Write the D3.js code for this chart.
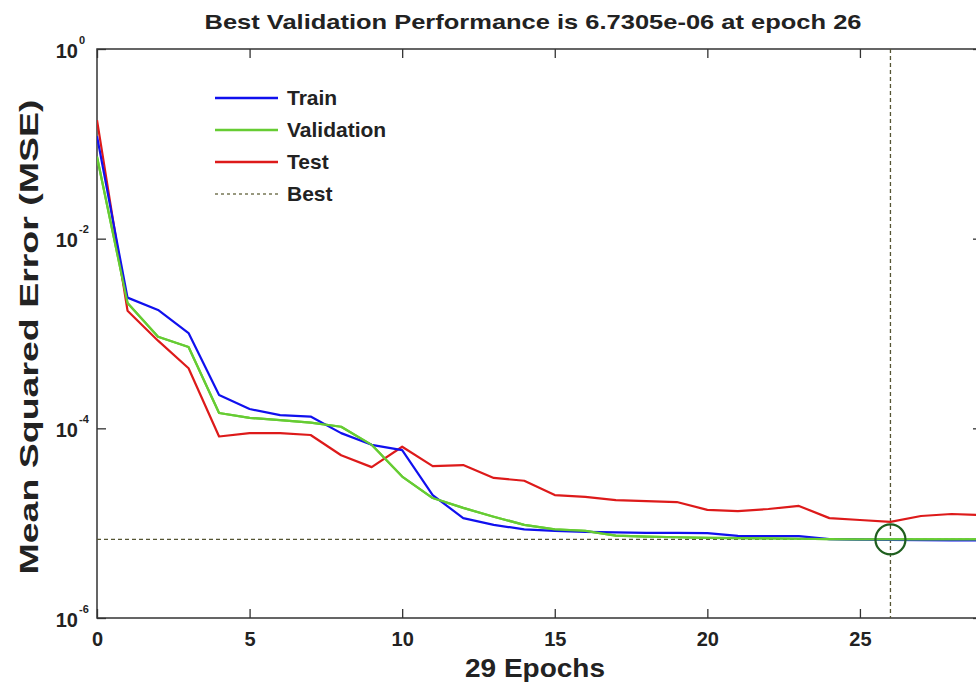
<!DOCTYPE html>
<html><head><meta charset="utf-8">
<script src="https://cdn.jsdelivr.net/npm/d3@7"></script>
<style>body{margin:0;background:#fff;overflow:hidden}svg{display:block}</style>
</head><body>
<script>
const epochs = [0,1,2,3,4,5,6,7,8,9,10,11,12,13,14,15,16,17,18,19,20,21,22,23,24,25,26,27,28,29];
const train = [0.12, 2.39e-3, 1.77e-3, 1.01e-3, 2.25e-4, 1.60e-4, 1.38e-4, 1.33e-4, 8.9e-5, 6.7e-5, 5.9e-5, 1.98e-5, 1.13e-5, 9.6e-6, 8.6e-6, 8.3e-6, 8.1e-6, 8.0e-6, 7.9e-6, 7.9e-6, 7.85e-6, 7.35e-6, 7.32e-6, 7.3e-6, 6.8e-6, 6.7e-6, 6.65e-6, 6.62e-6, 6.6e-6, 6.6e-6];
const validation = [0.073, 2.1e-3, 9.25e-4, 7.2e-4, 1.45e-4, 1.29e-4, 1.22e-4, 1.15e-4, 1.04e-4, 6.7e-5, 3.1e-5, 1.84e-5, 1.45e-5, 1.17e-5, 9.6e-6, 8.6e-6, 8.3e-6, 7.4e-6, 7.2e-6, 7.1e-6, 7.0e-6, 6.95e-6, 6.9e-6, 6.85e-6, 6.8e-6, 6.76e-6, 6.7305e-6, 6.74e-6, 6.75e-6, 6.76e-6];
const test = [0.178, 1.74e-3, 8.4e-4, 4.3e-4, 8.2e-5, 8.9e-5, 8.9e-5, 8.5e-5, 5.2e-5, 3.9e-5, 6.4e-5, 4.0e-5, 4.1e-5, 3.0e-5, 2.8e-5, 1.98e-5, 1.89e-5, 1.75e-5, 1.71e-5, 1.67e-5, 1.38e-5, 1.34e-5, 1.41e-5, 1.52e-5, 1.13e-5, 1.08e-5, 1.03e-5, 1.19e-5, 1.25e-5, 1.22e-5];
const bestEpoch = 26;
const bestValue = 6.7305e-6;
const xTicks = [0,5,10,15,20,25];
const yTicks = [1e-6,1e-4,1e-2,1];
const yTickExp = ["-6","-4","-2","0"];
const seriesNames = ["Train","Validation","Test","Best"];
const seriesColors = ["#1010ee","#66cc33","#dd1a1a","#555533"];
const titleText = "Best Validation Performance is 6.7305e-06 at epoch 26";
const xLabel = "29 Epochs";
const yLabel = "Mean Squared Error  (MSE)";

const W = 976, H = 684;
const L = 97, R = 982, T = 49, B = 618;
const font = "'Liberation Sans', Arial, sans-serif";

const svg = d3.select("body").append("svg").attr("width", W).attr("height", H)
  .style("font-family", font).style("font-weight", "bold");

const x = d3.scaleLinear().domain([0, 29]).range([L, R]);
const y = d3.scaleLog().domain([1e-6, 1]).range([B, T]);

svg.append("defs").append("clipPath").attr("id","clip")
  .append("rect").attr("x", L).attr("y", T).attr("width", R - L).attr("height", B - T);

// frame
svg.append("rect").attr("x", L).attr("y", T).attr("width", R - L).attr("height", B - T)
  .attr("fill", "none").attr("stroke", "#333").attr("stroke-width", 1.5);

// x axis bottom
const xa = svg.append("g").attr("transform", `translate(0,${B})`)
  .call(d3.axisBottom(x).tickValues(xTicks).tickSizeInner(-9).tickSizeOuter(0).tickPadding(14).tickFormat(d3.format("d")));
xa.select(".domain").remove();
xa.selectAll("line").attr("stroke", "#333").attr("stroke-width", 1.3);
xa.selectAll("text").attr("font-size", 20).attr("font-family", font).attr("font-weight", "bold").attr("fill", "#222");
// x axis top
const xt = svg.append("g").attr("transform", `translate(0,${T})`)
  .call(d3.axisTop(x).tickValues(xTicks).tickSizeInner(-9).tickSizeOuter(0).tickFormat(""));
xt.select(".domain").remove();
xt.selectAll("line").attr("stroke", "#333").attr("stroke-width", 1.3);

// y axis left
const ya = svg.append("g").attr("transform", `translate(${L},0)`)
  .call(d3.axisLeft(y).tickValues(yTicks).tickSizeInner(-9).tickSizeOuter(0).tickFormat(() => ""));
ya.select(".domain").remove();
ya.selectAll("line").attr("stroke", "#333").attr("stroke-width", 1.3);
ya.selectAll(".tick").each(function(d, i) {
  const g = d3.select(this);
  g.append("text").attr("x", -19).attr("y", 8).attr("text-anchor", "end")
    .attr("font-size", 20).attr("fill", "#222").text("10");
  g.append("text").attr("x", -18).attr("y", -6).attr("text-anchor", "start")
    .attr("font-size", 11).attr("fill", "#222").text(yTickExp[i]);
});
// y axis right
const yr = svg.append("g").attr("transform", `translate(${R},0)`)
  .call(d3.axisRight(y).tickValues(yTicks).tickSizeInner(-9).tickSizeOuter(0).tickFormat(""));
yr.select(".domain").remove();
yr.selectAll("line").attr("stroke", "#333").attr("stroke-width", 1.3);

// best lines
svg.append("line").attr("x1", L).attr("x2", R).attr("y1", y(bestValue)).attr("y2", y(bestValue))
  .attr("stroke", seriesColors[3]).attr("stroke-width", 1.3).attr("stroke-dasharray", "4,3");
svg.append("line").attr("x1", x(bestEpoch)).attr("x2", x(bestEpoch)).attr("y1", T).attr("y2", B)
  .attr("stroke", seriesColors[3]).attr("stroke-width", 1.3).attr("stroke-dasharray", "4,3");

const line = d3.line().x((d, i) => x(epochs[i])).y(d => y(d));
const plot = svg.append("g").attr("clip-path", "url(#clip)");
[[validation, 1], [test, 2], [train, 0], [validation, 1]].forEach(([vals, ci]) => {
  plot.append("path").datum(vals).attr("d", line).attr("fill", "none")
    .attr("stroke", seriesColors[ci]).attr("stroke-width", 2.2).attr("stroke-linejoin", "round");
});

// best circle
svg.append("circle").attr("cx", x(bestEpoch)).attr("cy", y(bestValue)).attr("r", 15)
  .attr("fill", "none").attr("stroke", "#1f5f1f").attr("stroke-width", 2.2);

// legend
const lg = svg.append("g");
seriesNames.forEach((n, i) => {
  const yy = 98 + i * 32;
  lg.append("line").attr("x1", 215).attr("x2", 278).attr("y1", yy).attr("y2", yy)
    .attr("stroke", i === 3 ? "#777755" : seriesColors[i]).attr("stroke-width", i === 3 ? 1.3 : 2.4)
    .attr("stroke-dasharray", i === 3 ? "3,3" : null);
  lg.append("text").attr("x", 287).attr("y", yy + 7).attr("font-size", 21).attr("fill", "#222").text(n);
});

// title & labels
svg.append("text").attr("x", 533).attr("y", 29).attr("text-anchor", "middle")
  .attr("font-size", 21).attr("fill", "#222").attr("textLength", 657).attr("lengthAdjust", "spacingAndGlyphs").text(titleText);
svg.append("text").attr("x", 535).attr("y", 677).attr("text-anchor", "middle")
  .attr("font-size", 25).attr("fill", "#222").attr("textLength", 140).attr("lengthAdjust", "spacingAndGlyphs").text(xLabel);
svg.append("text").attr("transform", `translate(38,${337}) rotate(-90)`).attr("text-anchor", "middle")
  .attr("font-size", 25).attr("fill", "#222").attr("textLength", 475).attr("lengthAdjust", "spacingAndGlyphs").text(yLabel);
</script>
</body></html>
